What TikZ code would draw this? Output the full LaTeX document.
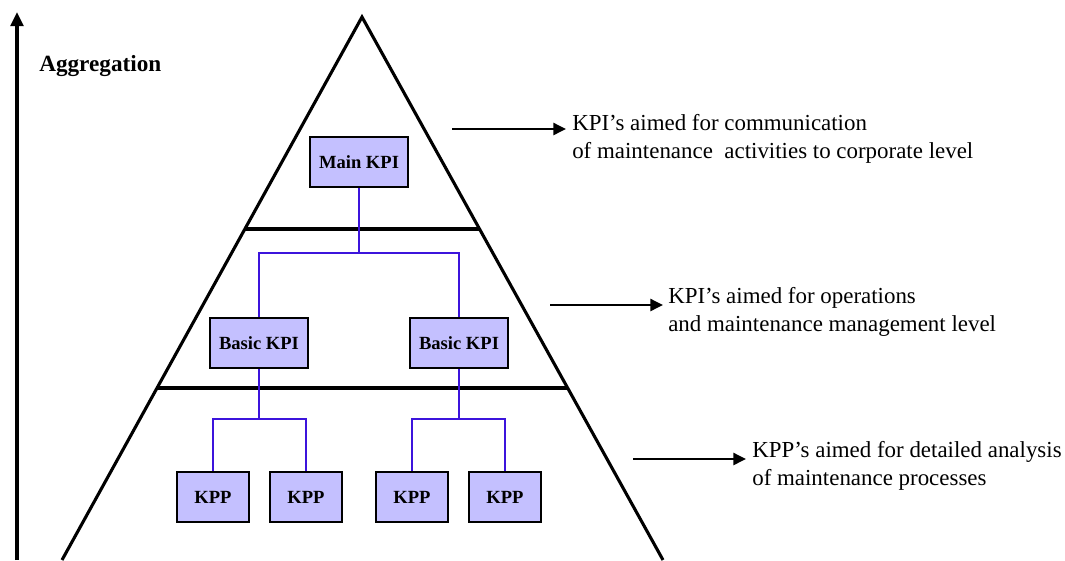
\documentclass[tikz,border=0pt]{standalone}
\usepackage{fontspec}
\setmainfont{Liberation Serif}
\usetikzlibrary{arrows.meta}

\definecolor{boxfill}{RGB}{196,192,255}
\definecolor{linkblue}{RGB}{60,20,220}

\begin{document}
\begin{tikzpicture}[x=0.025cm, y=-0.025cm,
    kpibox/.style={draw=black, line width=1.5pt, fill=boxfill, inner sep=0pt,
      minimum width=2.45cm, minimum height=1.25cm, font=\fontsize{13.2}{15}\selectfont\bfseries},
    kppbox/.style={kpibox, minimum width=1.8cm},
    link/.style={draw=linkblue, line width=1.6pt},
    pyr/.style={line width=2.2pt},
    pointer/.style={line width=1.8pt, -{Triangle[length=9pt, width=8.5pt]}},
    note/.style={anchor=west, align=left, inner sep=0pt, font=\fontsize{16.3}{20}\selectfont}]
    \useasboundingbox (0,0) rectangle (1065,560);

    % aggregation axis
    \coordinate (axbot) at (17,560);
    \coordinate (axtop) at (17,12);
    \draw[line width=2.2pt, -{Triangle[length=10pt, width=9pt]}] (axbot) -- (axtop);
    \node[anchor=west, inner sep=0pt, font=\fontsize{16.5}{20}\selectfont\bfseries] (agg) at (39,66) {Aggregation};

    % pyramid
    \coordinate (apex) at (362,17);
    \draw[pyr, line join=miter] (62,560) -- (apex) -- (663,560);
    \draw[pyr] (245,229) -- (479,229);
    \draw[pyr] (157,388) -- (568,388);

    % boxes
    \node[kpibox] (main) at (359,162) {Main KPI};
    \node[kpibox] (basicl) at (259,343) {Basic KPI};
    \node[kpibox] (basicr) at (459,343) {Basic KPI};
    \node[kppbox] (kpp1) at (213,497) {KPP};
    \node[kppbox] (kpp2) at (306,497) {KPP};
    \node[kppbox] (kpp3) at (412,497) {KPP};
    \node[kppbox] (kpp4) at (505,497) {KPP};

    % tree links
    \coordinate (jmain) at (359,253);
    \coordinate (jl) at (259,419);
    \coordinate (jr) at (459,419);
    \draw[link] (main.south) -- (jmain);
    \draw[link] (jmain) -| (basicl.north);
    \draw[link] (jmain) -| (basicr.north);
    \draw[link] (basicl.south) -- (jl);
    \draw[link] (jl) -| (kpp1.north);
    \draw[link] (jl) -| (kpp2.north);
    \draw[link] (basicr.south) -- (jr);
    \draw[link] (jr) -| (kpp3.north);
    \draw[link] (jr) -| (kpp4.north);

    % level notes
    \node[note] (note1) at (572,139) {KPI’s aimed for communication\\of maintenance\ \ activities to corporate level};
    \node[note] (note2) at (668,312) {KPI’s aimed for operations\\and maintenance management level};
    \node[note] (note3) at (752,466) {KPP’s aimed for detailed analysis\\of maintenance processes};

    \coordinate (a1s) at (452,129);
    \coordinate (a1e) at (566,129);
    \coordinate (a2s) at (550,305);
    \coordinate (a2e) at (663,305);
    \coordinate (a3s) at (633,459);
    \coordinate (a3e) at (746,459);
    \draw[pointer] (a1s) -- (a1e);
    \draw[pointer] (a2s) -- (a2e);
    \draw[pointer] (a3s) -- (a3e);
\end{tikzpicture}
\end{document}
